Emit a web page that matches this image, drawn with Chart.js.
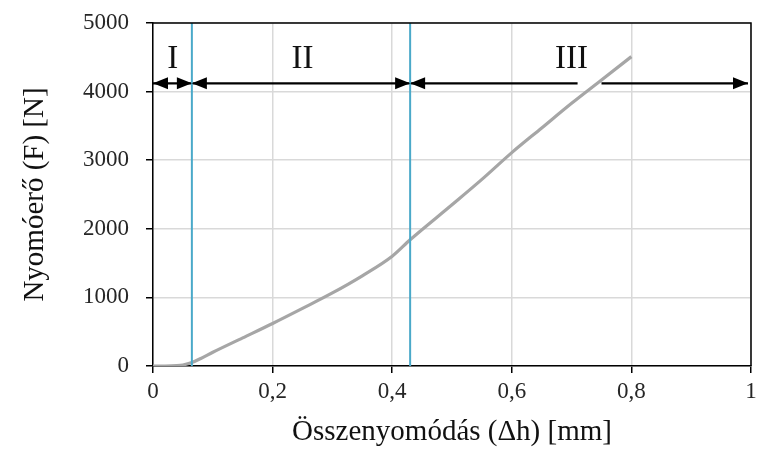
<!DOCTYPE html>
<html>
<head>
<meta charset="utf-8">
<script src="https://cdn.jsdelivr.net/npm/chart.js@4/dist/chart.umd.min.js"></script>
<style>
  html, body { margin: 0; padding: 0; background: #fff; }
  #wrap { width: 758px; height: 454px; }
</style>
</head>
<body>
<div id="wrap"><canvas id="myChart"></canvas></div>
<script>
"use strict";

// force-displacement curve
const DISP = [0, 0.02, 0.04, 0.05, 0.065, 0.08, 0.1, 0.15, 0.2, 0.25, 0.3, 0.35, 0.4, 0.43, 0.5, 0.55, 0.6, 0.65, 0.7, 0.75, 0.8];
const FORCE = [0, 0, 5, 15, 50, 110, 200, 410, 620, 840, 1065, 1315, 1600, 1840, 2350, 2720, 3110, 3470, 3830, 4170, 4510];

// zone borders (blue lines)
const ZONE_X = [0.065, 0.43];

// arrows + zone names
const ARROW_Y = 4120;
const ARROW_FROM = [0, 0.065, 0.43, 0.75];
const ARROW_TO = [0.065, 0.43, 0.71, 0.995];
const ARROW_ENDS = ["both", "both", "left", "right"];
const ZONE_NAMES = ["I", "II", "III"];
const ZONE_NAME_X = [0.033, 0.25, 0.70];
const ZONE_NAME_Y = 4470;

const X_TICKS = [0, 0.2, 0.4, 0.6, 0.8, 1];
const Y_TICKS = [0, 1000, 2000, 3000, 4000, 5000];

const FONT = "'Liberation Serif', 'DejaVu Serif', serif";

function toPoints(xs, ys) {
    return xs.map((x, i) => ({x: x, y: ys[i]}));
}

function triangle(ctx, tipX, tipY, dir) {
    const len = 15, half = 6;
    ctx.beginPath();
    ctx.moveTo(tipX, tipY);
    ctx.lineTo(tipX - dir * len, tipY - half);
    ctx.lineTo(tipX - dir * len, tipY + half);
    ctx.closePath();
    ctx.fill();
}

const annotations = {
    id: "annotations",
    afterDatasetsDraw(chart) {
        const ctx = chart.ctx;
        const xs = chart.scales.x, ys = chart.scales.y;
        const area = chart.chartArea;
        ctx.save();
        // frame top/right
        ctx.strokeStyle = "#000";
        ctx.lineWidth = 1.5;
        ctx.beginPath();
        ctx.moveTo(area.left, area.top);
        ctx.lineTo(area.right, area.top);
        ctx.lineTo(area.right, area.bottom);
        ctx.stroke();

        // arrowheads
        ctx.fillStyle = "#000";
        const py = ys.getPixelForValue(ARROW_Y);
        for (let i = 0; i < ARROW_FROM.length; i++) {
            const a = xs.getPixelForValue(ARROW_FROM[i]);
            const b = xs.getPixelForValue(ARROW_TO[i]);
            if (ARROW_ENDS[i] === "both" || ARROW_ENDS[i] === "left") triangle(ctx, a, py, -1);
            if (ARROW_ENDS[i] === "both" || ARROW_ENDS[i] === "right") triangle(ctx, b, py, 1);
        }

        // zone names
        ctx.font = "33px " + FONT;
        ctx.textAlign = "center";
        ctx.textBaseline = "middle";
        ctx.fillStyle = "#111";
        ZONE_NAMES.forEach((t, i) => {
            ctx.fillText(t, xs.getPixelForValue(ZONE_NAME_X[i]), ys.getPixelForValue(ZONE_NAME_Y));
        });
        ctx.restore();
    }
};

const datasets = [];
ZONE_X.forEach(zx => {
    datasets.push({
        data: [{x: zx, y: 0}, {x: zx, y: 5000}],
        borderColor: "#4aa9c9",
        borderWidth: 2,
        pointRadius: 0,
        showLine: true,
        order: 1
    });
});
ARROW_FROM.forEach((a, i) => {
    datasets.push({
        data: [{x: a, y: ARROW_Y}, {x: ARROW_TO[i], y: ARROW_Y}],
        borderColor: "#000",
        borderWidth: 2.2,
        pointRadius: 0,
        showLine: true,
        order: 1
    });
});
datasets.push({
    data: toPoints(DISP, FORCE),
    borderColor: "#a6a6a6",
    borderWidth: 3.2,
    pointRadius: 0,
    showLine: true,
    cubicInterpolationMode: "monotone",
    order: 3
});

const config = {
    type: "scatter",
    data: {datasets: datasets},
    options: {
        responsive: true,
        maintainAspectRatio: false,
        animation: false,
        layout: {padding: {top: 23, right: 7, left: 14, bottom: 0}},
        plugins: {legend: {display: false}, tooltip: {enabled: false}},
        scales: {
            x: {
                type: "linear",
                min: 0, max: 1,
                afterBuildTicks: s => { s.ticks = X_TICKS.map(v => ({value: v})); },
                afterFit: s => { s.height = 88; s.paddingRight = 0; s.paddingLeft = 0; },
                ticks: {
                    font: {family: FONT, size: 23},
                    color: "#262626",
                    padding: 5,
                    callback: v => (v === 0 || v === 1) ? String(v) : v.toFixed(1).replace(".", ",")
                },
                grid: {color: "#d9d9d9", lineWidth: 1.5, tickLength: 7, tickColor: "#000", tickWidth: 1.5},
                border: {color: "#000", width: 1.5},
                title: {display: true, text: "Összenyomódás (Δh) [mm]", font: {family: FONT, size: 29}, color: "#111", padding: {top: 0}}
            },
            y: {
                type: "linear",
                min: 0, max: 5000,
                afterBuildTicks: s => { s.ticks = Y_TICKS.map(v => ({value: v})); },
                afterFit: s => { s.width = 139; s.paddingTop = 0; s.paddingBottom = 0; },
                ticks: {
                    font: {family: FONT, size: 23},
                    color: "#262626",
                    padding: 17,
                    callback: v => String(v)
                },
                grid: {color: "#d9d9d9", lineWidth: 1.5, tickLength: 7, tickColor: "#000", tickWidth: 1.5},
                border: {color: "#000", width: 1.5},
                title: {display: true, text: "Nyomóerő (F) [N]", font: {family: FONT, size: 29}, color: "#111", padding: {bottom: 0}}
            }
        }
    },
    plugins: [annotations]
};

const myChart = new Chart(document.getElementById("myChart"), config);
</script>
</body>
</html>
